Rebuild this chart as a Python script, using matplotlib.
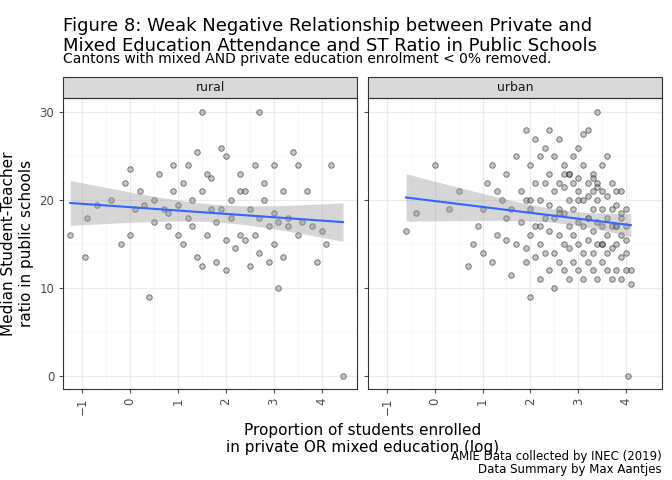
import numpy as np
import matplotlib.pyplot as plt
from matplotlib.patches import Rectangle

# rural canton points (log proportion, median ST ratio)
rural_x = [-1.25, -0.95, -0.9, -0.7, -0.4, -0.2, -0.1, 0.0, 0.0, 0.1, 0.2, 0.3, 0.4, 0.5, 0.5, 0.6,
           0.7, 0.8, 0.8, 0.9, 0.9, 1.0, 1.0, 1.1, 1.1, 1.2, 1.2, 1.3, 1.3, 1.4, 1.4, 1.5, 1.5, 1.5,
           1.6, 1.6, 1.7, 1.7, 1.8, 1.8, 1.9, 1.9, 2.0, 2.0, 2.0, 2.1, 2.1, 2.2, 2.3, 2.3, 2.3, 2.4,
           2.4, 2.5, 2.5, 2.6, 2.6, 2.7, 2.7, 2.7, 2.8, 2.8, 2.9, 2.9, 3.0, 3.0, 3.0, 3.1, 3.1, 3.2,
           3.2, 3.3, 3.3, 3.4, 3.5, 3.5, 3.6, 3.7, 3.8, 3.9, 4.0, 4.1, 4.2, 4.45]
rural_y = [16, 13.5, 18, 19.5, 20, 15, 22, 23.5, 16, 19, 21, 19.5, 9, 17.5, 20, 23,
           19, 17, 18.5, 24, 21, 19.5, 16, 22, 15, 24, 18, 20, 17, 25.5, 13.5, 30, 21, 12.5,
           23, 16, 22.5, 19, 17.5, 13, 26, 19, 25, 15.5, 12, 20, 18, 14.5, 23, 16, 21, 21,
           15.5, 19, 12.5, 24, 16, 30, 18, 14, 22, 20, 17, 13, 24, 18.5, 15, 10, 17.5, 21,
           13.5, 18, 17, 25.5, 24, 16, 17.5, 21, 17, 13, 16.5, 15, 24, 0]

# urban canton points
urban_x = [-0.6, -0.4, 0.0, 0.3, 0.5, 0.7, 0.8, 0.9, 1.0, 1.0, 1.1, 1.2, 1.2, 1.3, 1.3, 1.4,
           1.5, 1.5, 1.6, 1.6, 1.7, 1.7, 1.8, 1.8, 1.9, 1.9, 1.9, 2.0, 2.0, 2.0, 2.0, 2.1, 2.1,
           2.1, 2.1, 2.2, 2.2, 2.2, 2.2, 2.3, 2.3, 2.3, 2.3, 2.4, 2.4, 2.4, 2.4, 2.5, 2.5, 2.5,
           2.5, 2.5, 2.6, 2.6, 2.6, 2.6, 2.6, 2.7, 2.7, 2.7, 2.7, 2.7, 2.8, 2.8, 2.8, 2.8, 2.8,
           2.9, 2.9, 2.9, 2.9, 2.9, 3.0, 3.0, 3.0, 3.0, 3.0, 3.0, 3.1, 3.1, 3.1, 3.1, 3.1, 3.2,
           3.2, 3.2, 3.2, 3.2, 3.2, 3.3, 3.3, 3.3, 3.3, 3.3, 3.3, 3.4, 3.4, 3.4, 3.4, 3.4, 3.4,
           3.5, 3.5, 3.5, 3.5, 3.5, 3.5, 3.6, 3.6, 3.6, 3.6, 3.6, 3.7, 3.7, 3.7, 3.7, 3.7, 3.8,
           3.8, 3.8, 3.8, 3.8, 3.9, 3.9, 3.9, 3.9, 3.9, 4.0, 4.0, 4.0, 4.0, 4.1, 4.1, 4.05, 1.9,
           2.4, 2.8, 3.1, 3.3, 3.6, 2.2, 2.7, 3.0, 3.4, 3.9, 1.5, 2.0, 2.6, 3.2, 3.5, 3.8, 4.0]
urban_y = [16.5, 18.5, 24, 19, 21, 12.5, 15, 17, 14, 19, 22, 13, 24, 16, 21, 20,
           18, 23, 11.5, 19, 15, 25, 17.5, 21, 13, 20, 28, 9, 16, 19, 24, 13.5, 17, 22,
           27, 11, 15, 20, 25, 14, 18, 22, 26, 12, 16.5, 19.5, 23, 10, 14, 18, 21, 25,
           13, 16, 19, 22, 27, 12, 15, 18.5, 21.5, 24, 11, 14.5, 17, 20, 23, 13, 16, 19,
           22, 25, 12, 15, 17.5, 20, 22.5, 26, 11, 14, 17, 20, 24, 13, 15.5, 18, 20.5,
           22, 28, 12, 14, 16.5, 19, 21, 23, 11, 15, 17.5, 20, 22, 30, 13, 15, 17, 19, 21,
           24, 12, 14, 16, 18, 20.5, 11, 14.5, 17, 19, 22, 12, 15, 17, 19.5, 21, 11, 13.5,
           16, 18.5, 21, 12, 14, 15.5, 17, 10.5, 12, 0, 14.5, 28, 23, 27.5, 22.5, 25, 17,
           23, 21, 21.5, 18, 15.5, 20, 18.5, 18, 15, 17, 19, 17, 16]

panels = [('rural', rural_x, rural_y), ('urban', urban_x, urban_y)]
blue = '#3366FF'

fig, axes = plt.subplots(1, 2, figsize=(6.72, 4.8), dpi=100, sharey=True)
fig.subplots_adjust(left=0.094, right=0.985, top=0.795, bottom=0.19, wspace=0.035)

for ax, (name, xs, ys) in zip(axes, panels):
    m = min(len(xs), len(ys))
    xs = np.array(xs[:m])
    ys = np.array(ys[:m])
    ax.set_facecolor('white')
    ax.grid(True, color='#EBEBEB', lw=0.8)
    ax.grid(True, which='minor', color='#F5F5F5', lw=0.5)
    ax.set_axisbelow(True)
    ax.scatter(xs, ys, s=16, facecolor='#7F7F7F', edgecolor='black', alpha=0.45, lw=0.7, zorder=3)
    # linear fit with 95% band
    n = len(xs)
    b, a = np.polyfit(xs, ys, 1)
    xx = np.linspace(xs.min(), xs.max(), 80)
    resid = ys - (a + b * xs)
    s = np.sqrt((resid ** 2).sum() / (n - 2))
    se = s * np.sqrt(1 / n + (xx - xs.mean()) ** 2 / ((xs - xs.mean()) ** 2).sum())
    fit = a + b * xx
    ax.fill_between(xx, fit - 1.97 * se, fit + 1.97 * se, color='#999999', alpha=0.4, lw=0, zorder=4)
    ax.plot(xx, fit, color=blue, lw=1.5, zorder=5)
    ax.set_xlim(-1.4, 4.75)
    ax.set_ylim(-1.5, 31.6)
    ax.set_xticks([-1, 0, 1, 2, 3, 4])
    ax.set_xticks([-0.5, 0.5, 1.5, 2.5, 3.5], minor=True)
    ax.set_yticks([0, 10, 20, 30])
    ax.set_yticks([5, 15, 25], minor=True)
    ax.tick_params(axis='x', rotation=90, labelsize=8.5, colors='#4D4D4D', length=3)
    ax.tick_params(axis='y', labelsize=8.5, colors='#4D4D4D', length=3)
    ax.tick_params(which='minor', length=0)
    for sp in ax.spines.values():
        sp.set_color('#333333')
        sp.set_linewidth(0.8)
    # facet strip
    ax.add_patch(Rectangle((0, 1.0), 1, 0.075, transform=ax.transAxes, fc='#D9D9D9',
                           ec='#333333', lw=0.8, clip_on=False))
    ax.text(0.5, 1.0375, name, transform=ax.transAxes, ha='center', va='center',
            fontsize=9, color='#1A1A1A')

axes[0].set_ylabel('Median Student-Teacher\nratio in public schools', fontsize=11)
fig.text(0.54, 0.085, 'Proportion of students enrolled\nin private OR mixed education (log)',
         ha='center', va='center', fontsize=11)
fig.text(0.094, 0.925, 'Figure 8: Weak Negative Relationship between Private and\n'
         'Mixed Education Attendance and ST Ratio in Public Schools',
         ha='left', va='center', fontsize=13)
fig.text(0.094, 0.878, 'Cantons with mixed AND private education enrolment < 0% removed.',
         ha='left', va='center', fontsize=10)
fig.text(0.985, 0.035, 'AMIE Data collected by INEC (2019)\nData Summary by Max Aantjes',
         ha='right', va='center', fontsize=8.5, linespacing=1.0)

fig.savefig('out.png', dpi=100)
